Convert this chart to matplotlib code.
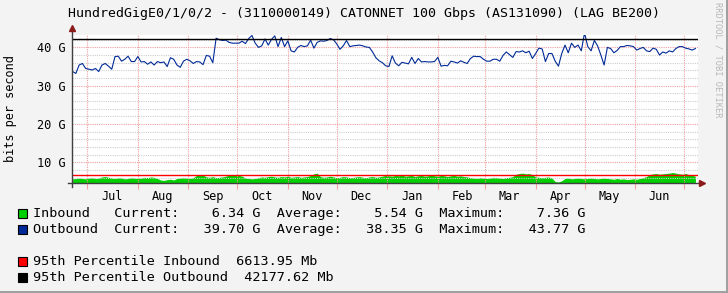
import matplotlib
matplotlib.use("Agg")
import matplotlib.pyplot as plt
import matplotlib.dates as mdates
from matplotlib.patches import Rectangle
from matplotlib.ticker import NullFormatter
import pandas as pd

title = "HundredGigE0/1/0/2 - (3110000149) CATONNET 100 Gbps (AS131090) (LAG BE200)"

# one sample every 2 days, Gbps
dates = pd.date_range("2023-06-22", periods=192, freq="2D")

inbound = [
    5.7, 5.8, 5.9, 5.8, 5.7, 5.9, 6.0, 5.8, 5.9,
    6.2, 6.3, 6.1,
    5.9, 5.8, 6.0, 5.9, 5.7, 5.8, 6.0, 5.9, 5.8, 5.9, 6.1, 6.0,
    6.2, 6.1, 5.8,
    5.4, 5.3, 5.5, 5.6, 5.4,
    5.8, 5.9, 6.0, 5.9, 5.8, 6.0,
    6.6, 6.8, 6.7,
    6.2, 6.1, 6.3, 6.0, 6.1, 6.2, 6.4,
    6.7, 6.8, 6.7, 6.6, 6.4,
    5.9, 5.8, 5.7, 5.8, 6.0,
    6.2, 6.1, 6.3, 6.4, 6.2, 6.1, 6.3, 6.2, 6.4, 6.1, 6.2, 6.3, 6.1, 6.2, 6.3,
    6.6, 7.0, 7.2,
    6.3, 6.1, 6.2, 6.4, 6.2, 6.0, 6.1, 6.3, 6.2, 6.0, 6.1, 6.2, 6.3, 6.1, 6.0, 6.2, 6.3, 6.1, 6.2, 6.4,
    6.6, 6.5, 6.4, 6.6, 6.5, 6.7, 6.4, 6.5, 6.6, 6.3, 6.5, 6.6, 6.4, 6.5, 6.7, 6.5, 6.4, 6.6, 6.5, 6.3,
    6.5, 6.6, 6.4, 6.5, 6.3, 6.2,
    6.0, 5.9, 5.8, 6.0, 5.9, 5.8, 5.9, 6.1, 6.0, 5.9, 5.8, 6.0, 6.1, 6.3,
    6.9, 7.1, 7.2, 7.0, 7.1, 6.8,
    6.2, 6.1, 6.0, 6.1, 6.2, 5.9,
    5.0, 4.9, 5.2,
    5.8, 5.9, 5.7, 5.8, 5.9, 5.8, 5.7, 5.8, 5.9, 5.8, 5.7, 5.8, 5.9, 5.8, 5.7, 5.6, 5.8,
    5.6, 5.7, 5.5, 5.6, 5.7, 5.6, 5.8, 6.0, 6.3,
    6.8, 7.0, 7.1, 6.9, 7.0, 7.1, 7.2,
    7.36,
    7.2, 7.0, 6.9, 7.1, 6.8, 6.7, 6.34,
]

outbound = [
    33.7, 33.2, 35.4, 35.8, 34.5, 34.3, 34.1, 34.5, 33.7, 35.4,
    35.8, 35.1, 34.3, 37.6, 37.7, 36.4, 36.9, 37.7, 36.3, 36.3,
    37.6, 36.2, 36.3, 35.6, 36.2, 35.4, 36.3, 36.0, 36.2, 35.0,
    37.3, 36.9, 35.4, 34.8, 36.4, 36.9, 36.5, 35.8, 36.3, 36.2,
    35.5, 37.9, 37.7, 36.0, 42.4, 42.0, 41.8, 41.9, 41.3, 41.1,
    41.1, 41.1, 41.6, 41.0, 42.3, 43.1, 41.1, 40.0, 40.4, 42.2,
    40.6, 42.1, 43.0, 40.2, 42.6, 40.2, 41.7, 39.1, 38.8, 40.0,
    40.5, 40.2, 40.4, 41.9, 39.8, 41.3, 41.7, 41.6, 41.8, 42.3,
    42.0, 40.9, 39.5, 40.4, 41.8, 40.2, 40.4, 40.5, 40.6, 40.4,
    40.1, 40.0, 38.8, 37.3, 36.5, 36.0, 35.2, 35.0, 37.8, 35.9,
    35.2, 36.1, 35.9, 35.7, 37.4, 35.8, 37.1, 36.2, 36.3, 36.2,
    36.2, 36.3, 37.4, 35.1, 35.3, 35.2, 36.4, 36.2, 35.9, 36.5,
    36.1, 35.8, 37.1, 37.7, 37.6, 37.6, 36.9, 36.4, 36.4, 36.9,
    36.9, 36.4, 37.9, 38.8, 38.1, 37.4, 38.9, 38.8, 39.1, 38.6,
    39.0, 37.1, 38.4, 39.8, 39.6, 36.3, 38.4, 38.4, 36.4, 35.1,
    38.4, 40.6, 38.6, 41.1, 40.0, 40.6, 39.1, 43.77, 40.2, 39.1,
    41.8, 40.4, 38.0, 35.4, 40.0, 39.7, 38.6, 39.2, 40.2, 40.2,
    40.5, 40.4, 40.2, 39.3, 39.7, 40.0, 39.1, 38.9, 39.8, 39.5,
    38.0, 38.8, 38.5, 39.1, 38.8, 39.7, 40.2, 40.2, 39.8, 39.6,
    39.3, 39.70,
]

# current / average / maximum, Gbps
in_stats = [6.34, 5.54, 7.36]
out_stats = [39.70, 38.35, 43.77]
p95_in_mb = 6613.95
p95_out_mb = 42177.62

green = "#00CF00"
blue = "#002A97"
pink = "#F2A0A0"
grey = "#CFCFCF"

W, H = 728, 293
plt.rcParams["font.family"] = "DejaVu Sans Mono"

fig = plt.figure(figsize=(W / 100, H / 100), dpi=100, facecolor="#F3F3F3")
ax = fig.add_axes([72 / W, 1 - 183 / H, 625.7 / W, 148 / H])
ax.set_facecolor("white")

x0 = mdates.date2num(pd.Timestamp("2023-07-01")) - 15.3 / 1.631
x1 = mdates.date2num(pd.Timestamp("2024-07-01")) + 13.7 / 1.631
ax.set_xlim(x0, x1)
ax.set_ylim(4.62, 43.23)

# grid
for v in range(6, 44, 2):
    if v % 10:
        ax.axhline(v, color=grey, lw=0.8, ls=(0, (1, 1)), zorder=2)
for v in (10, 20, 30, 40):
    ax.axhline(v, color=pink, lw=0.8, ls=(0, (1, 1)), zorder=2)
for m in pd.date_range("2023-07-01", "2024-07-01", freq="MS"):
    ax.axvline(m, color=pink, lw=0.8, ls=(0, (1, 1)), zorder=2)

# data
ax.fill_between(dates, 0, inbound, color=green, lw=0, zorder=1)
ax.plot(dates, outbound, color=blue, lw=0.8, zorder=3)
ax.axhline(p95_in_mb / 1000, color="#FF0000", lw=1.0, zorder=4)
ax.axhline(p95_out_mb / 1000, color="black", lw=1.0, zorder=4)

# axes
for s in ax.spines.values():
    s.set_visible(False)
ax.plot([0, 0], [-0.027, 1.04], color="#404040", lw=1, transform=ax.transAxes, clip_on=False, zorder=5)
ax.plot([-0.007, 1.004], [0, 0], color="#404040", lw=1, transform=ax.transAxes, clip_on=False, zorder=5)
ax.plot([0], [1.045], marker="^", ms=4.5, color="#8B1A1A", transform=ax.transAxes, clip_on=False, zorder=6)
ax.plot([1.007], [0], marker=">", ms=4.5, color="#8B1A1A", transform=ax.transAxes, clip_on=False, zorder=6)

ax.set_yticks([10, 20, 30, 40])
ax.set_yticklabels(["10 G", "20 G", "30 G", "40 G"])
ax.tick_params(axis="y", length=0, pad=5, labelsize=8.6)

ax.xaxis.set_major_locator(mdates.MonthLocator())
ax.xaxis.set_major_formatter(NullFormatter())
ax.xaxis.set_minor_locator(mdates.MonthLocator(bymonthday=16))
ax.xaxis.set_minor_formatter(mdates.DateFormatter("%b"))
ax.tick_params(axis="x", which="major", length=4, width=0.8, color=pink)
ax.tick_params(axis="x", which="minor", length=0, pad=5, labelsize=8.6)

ax.set_ylabel("bits per second", fontsize=8.6)
ax.yaxis.set_label_coords(-55 / 625.7, 0.5)

# title and watermark
fig.text(364 / W, 1 - 14 / H, title, ha="center", va="center", fontsize=9.5)
fig.text(718 / W, 1 - 60 / H, "RRDTOOL / TOBI OETIKER", rotation=270,
         ha="center", va="center", fontsize=6.3, color="#B8B8B8")

# legend
rows = [
    (213.5, green, "{:<10}Current:{:>8.2f} G  Average:{:>8.2f} G  Maximum:{:>8.2f} G".format("Inbound", *in_stats)),
    (229.3, blue, "{:<10}Current:{:>8.2f} G  Average:{:>8.2f} G  Maximum:{:>8.2f} G".format("Outbound", *out_stats)),
    (261.3, "#FF0000", "95th Percentile Inbound  {:.2f} Mb".format(p95_in_mb)),
    (277.3, "black", "95th Percentile Outbound  {:.2f} Mb".format(p95_out_mb)),
]
for y, c, txt in rows:
    fig.patches.append(Rectangle((17.5 / W, 1 - (y + 4.5) / H), 9 / W, 9 / H, facecolor=c,
                                 edgecolor="black", lw=0.8, transform=fig.transFigure))
    fig.text(33 / W, 1 - y / H, txt, ha="left", va="center", fontsize=9.7)

# frame shading
fig.patches.append(Rectangle((0, 0), 1, 2 / H, facecolor="#A0A0A0", lw=0, transform=fig.transFigure))
fig.patches.append(Rectangle((1 - 2 / W, 0), 2 / W, 1, facecolor="#A0A0A0", lw=0, transform=fig.transFigure))

fig.savefig("out.png", dpi=100, facecolor=fig.get_facecolor())
